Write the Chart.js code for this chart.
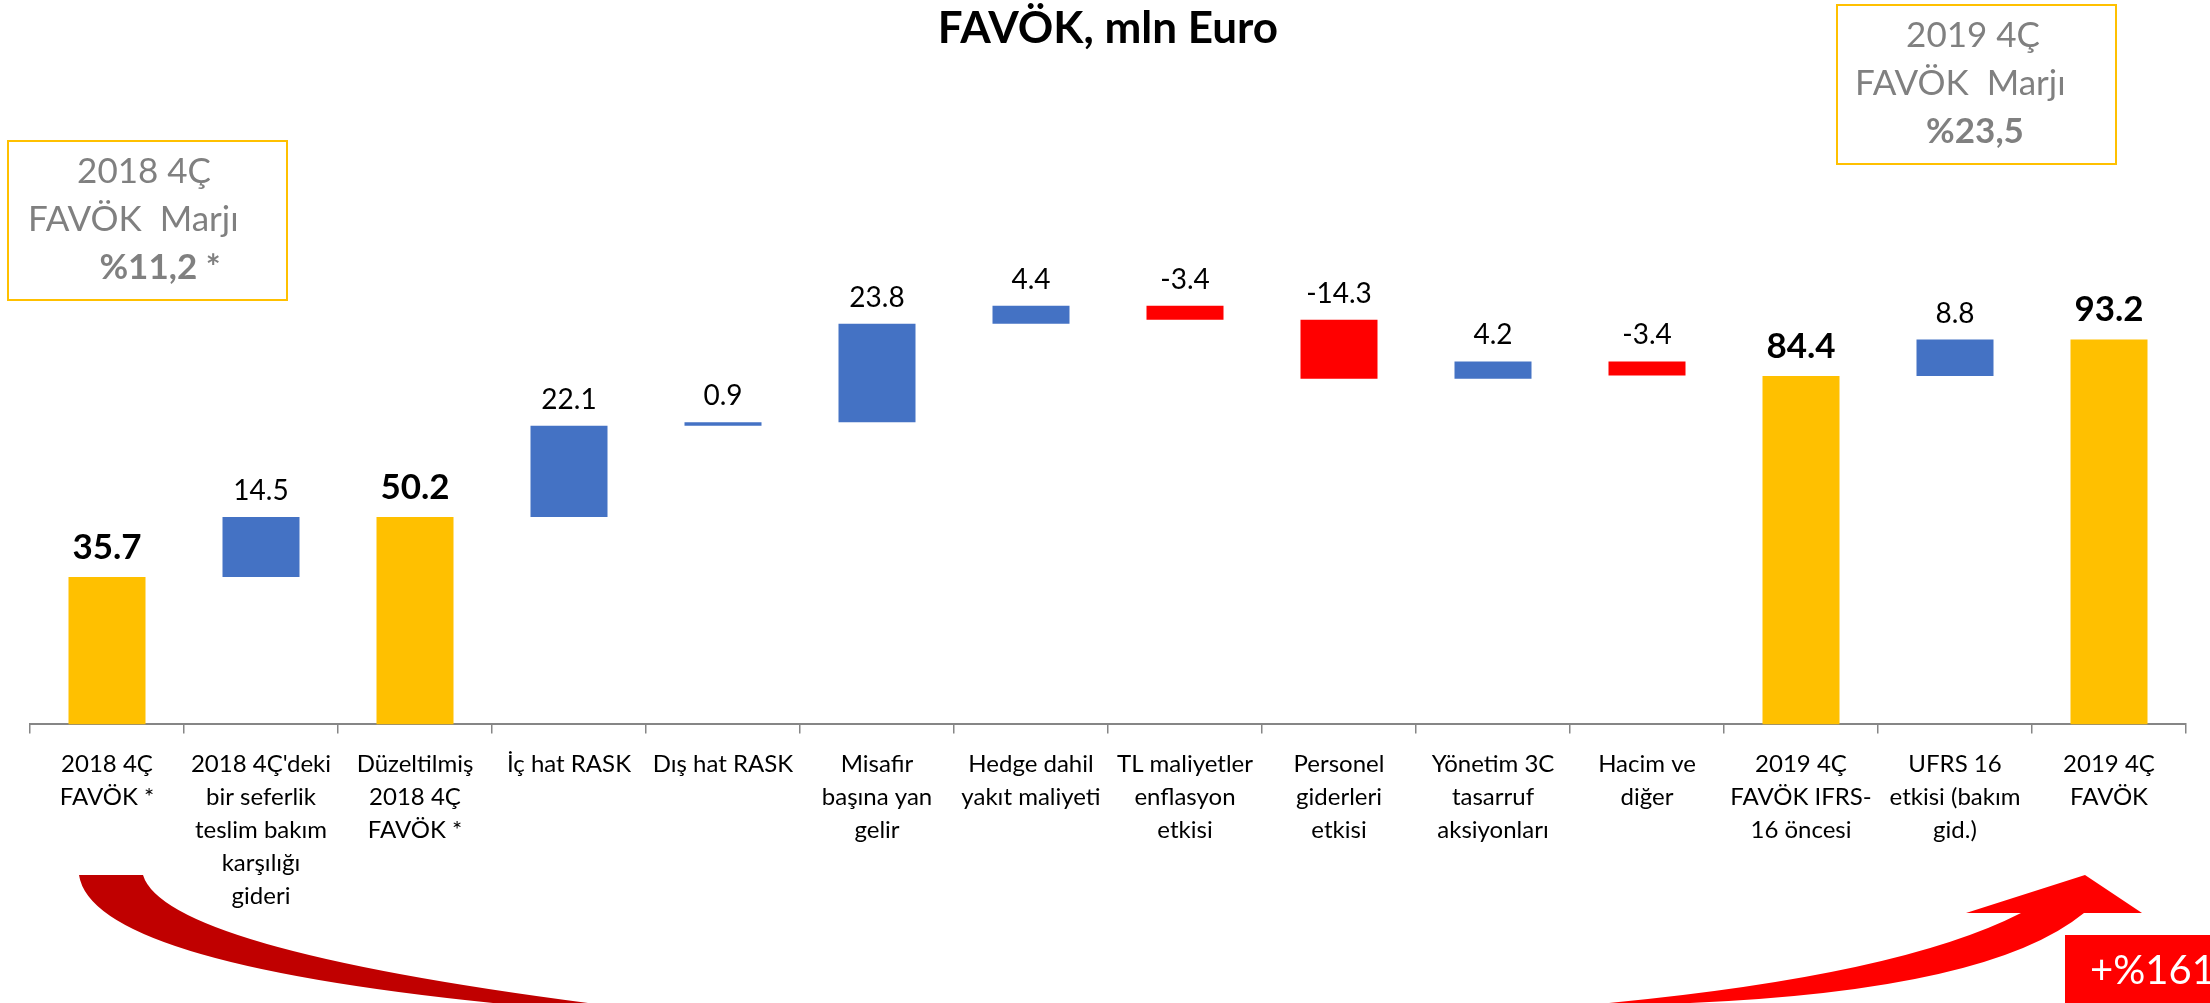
<!DOCTYPE html>
<html>
<head>
<meta charset="utf-8">
<title>FAVÖK, mln Euro</title>
<script src="https://cdn.jsdelivr.net/npm/chart.js@4.4.1/dist/chart.umd.min.js"></script>
<style>
    html, body { margin: 0; padding: 0; background: #ffffff; }
    #wrap { width: 2210px; height: 1003px; }
</style>
</head>
<body>
<div id="wrap"><canvas id="favokChart" width="2210" height="1003"></canvas></div>
<script>
// categories (already wrapped the way the slide wraps them)
const categories = [
    ["2018 4Ç", "FAVÖK *"],
    ["2018 4Ç'deki", "bir seferlik", "teslim bakım", "karşılığı", "gideri"],
    ["Düzeltilmiş", "2018 4Ç", "FAVÖK *"],
    ["İç hat RASK"],
    ["Dış hat RASK"],
    ["Misafir", "başına yan", "gelir"],
    ["Hedge dahil", "yakıt maliyeti"],
    ["TL maliyetler", "enflasyon", "etkisi"],
    ["Personel", "giderleri", "etkisi"],
    ["Yönetim 3C", "tasarruf", "aksiyonları"],
    ["Hacim ve", "diğer"],
    ["2019 4Ç", "FAVÖK IFRS-", "16 öncesi"],
    ["UFRS 16", "etkisi (bakım", "gid.)"],
    ["2019 4Ç", "FAVÖK"]
];

// step values; totals are the level itself, the rest are changes
const values = [35.7, 14.5, 50.2, 22.1, 0.9, 23.8, 4.4, -3.4, -14.3, 4.2, -3.4, 84.4, 8.8, 93.2];
const barTypes = ["total", "up", "total", "up", "up", "up", "up", "down", "down", "up", "down", "total", "up", "total"];

const marginBoxes = [
    { lines: ["2018 4Ç", "FAVÖK  Marjı", "%11,2 *"] },
    { lines: ["2019 4Ç", "FAVÖK  Marjı", "%23,5"] }
];
const growthLabel = "+%161";

const colors = { total: "#FFC000", up: "#4472C4", down: "#FF0000" };
const FONT = "Lato, 'Open Sans', sans-serif";

// floating ranges for the waterfall
let running = 0;
const ranges = values.map((v, i) => {
    if (barTypes[i] === "total") {
        running = v;
        return [0, v];
    }
    const start = running;
    running = running + v;
    return [start, running];
});

const valueLabels = {
    id: "valueLabels",
    afterDatasetsDraw(chart) {
        const ctx = chart.ctx;
        const meta = chart.getDatasetMeta(0);
        ctx.save();
        ctx.textAlign = "center";
        ctx.textBaseline = "bottom";
        ctx.fillStyle = "#000000";
        meta.data.forEach((bar, i) => {
            const top = Math.min(bar.y, bar.base);
            const isTotal = barTypes[i] === "total";
            ctx.font = isTotal ? "bold 35px " + FONT : "28px " + FONT;
            ctx.fillText(values[i].toFixed(1), bar.x, top - 12);
        });
        ctx.restore();
    }
};

function drawBox(ctx, x, y, w, h, lines, pos) {
    ctx.strokeStyle = "#FFC000";
    ctx.lineWidth = 2;
    ctx.strokeRect(x, y, w, h);
    ctx.fillStyle = "#808080";
    ctx.textBaseline = "middle";
    ctx.font = "35px " + FONT;
    ctx.textAlign = "center";
    ctx.fillText(lines[0], pos.c1, y + 31);
    ctx.textAlign = "left";
    ctx.fillText(lines[1], pos.l2, y + 79);
    ctx.font = "bold 35px " + FONT;
    ctx.textAlign = "center";
    ctx.fillText(lines[2], pos.c3, y + 127);
}

const decorations = {
    id: "decorations",
    afterDraw(chart) {
        const ctx = chart.ctx;
        ctx.save();

        drawBox(ctx, 8, 141, 279, 159, marginBoxes[0].lines, { c1: 144, l2: 28, c3: 160 });
        drawBox(ctx, 1837, 5, 279, 159, marginBoxes[1].lines, { c1: 1973, l2: 1855, c3: 1975 });

        // left curved band
        ctx.fillStyle = "#C00000";
        ctx.beginPath();
        ctx.moveTo(79, 875);
        ctx.quadraticCurveTo(92, 962, 493, 1003);
        ctx.lineTo(588, 1003);
        ctx.quadraticCurveTo(165, 948, 143, 875);
        ctx.closePath();
        ctx.fill();

        // right curved arrow
        ctx.fillStyle = "#FF0000";
        ctx.beginPath();
        ctx.moveTo(1609, 1003);
        ctx.quadraticCurveTo(1900, 975, 2021, 913);
        ctx.lineTo(1966, 913);
        ctx.lineTo(2085, 875);
        ctx.lineTo(2142, 913);
        ctx.lineTo(2084, 913);
        ctx.quadraticCurveTo(1990, 990, 1690, 1003);
        ctx.closePath();
        ctx.fill();

        // growth badge
        ctx.fillRect(2065, 935, 145, 68);
        ctx.fillStyle = "#FFFFFF";
        ctx.font = "40px " + FONT;
        ctx.textAlign = "left";
        ctx.textBaseline = "middle";
        ctx.fillText(growthLabel, 2090, 971);

        ctx.restore();
    }
};

new Chart(document.getElementById("favokChart"), {
    type: "bar",
    data: {
        labels: categories,
        datasets: [{
            data: ranges,
            backgroundColor: barTypes.map(t => colors[t]),
            borderWidth: 0,
            borderSkipped: false,
            categoryPercentage: 1,
            barPercentage: 0.5
        }]
    },
    options: {
        responsive: false,
        animation: false,
        layout: { padding: { left: 30, right: 24, top: 0, bottom: 76 } },
        plugins: {
            legend: { display: false },
            tooltip: { enabled: false },
            title: {
                display: true,
                text: "FAVÖK, mln Euro",
                color: "#000000",
                font: { family: FONT, size: 44, weight: "bold", lineHeight: 1.2 },
                padding: { top: 2, bottom: 44 }
            }
        },
        scales: {
            x: {
                grid: {
                    display: true,
                    drawOnChartArea: false,
                    drawTicks: true,
                    tickLength: 9,
                    color: "#868686",
                    lineWidth: 1.5
                },
                border: { display: true, color: "#868686", width: 2 },
                ticks: {
                    autoSkip: false,
                    maxRotation: 0,
                    minRotation: 0,
                    padding: 14,
                    color: "#000000",
                    font: { family: FONT, size: 24, lineHeight: 1.38 }
                }
            },
            y: {
                display: false,
                min: 0,
                max: 151.5
            }
        }
    },
    plugins: [valueLabels, decorations]
});
</script>
</body>
</html>
